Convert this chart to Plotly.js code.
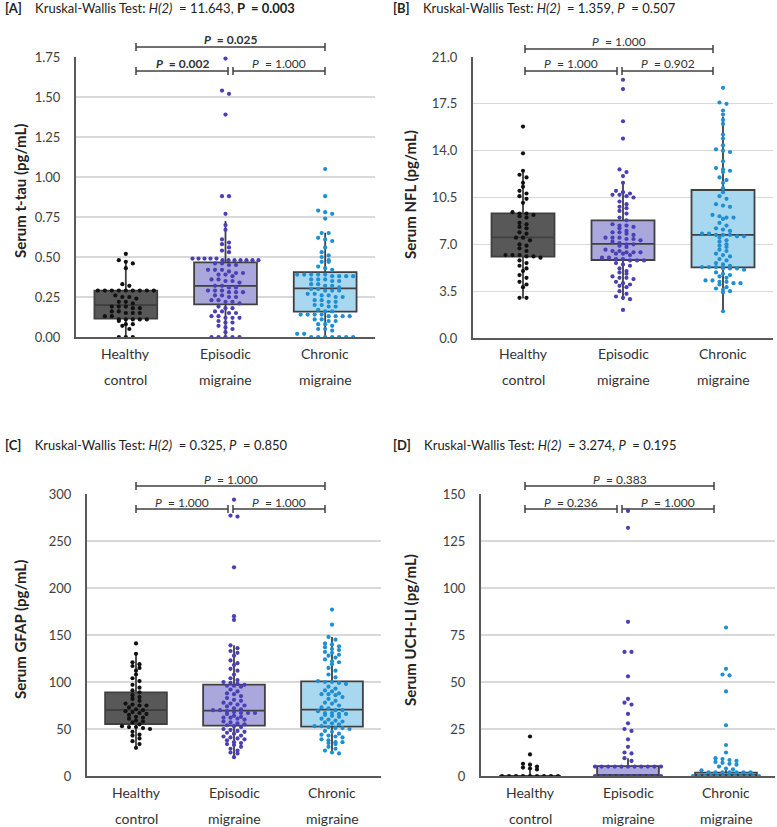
<!DOCTYPE html>
<html><head><meta charset="utf-8">
<script src="https://cdn.plot.ly/plotly-3.0.1.min.js"></script>
<style>html,body{margin:0;padding:0;background:#fff;}#chart{width:777px;height:827px;}</style>
</head><body><div id="chart"></div>
<script>
// ---------------- DATA ----------------
const categories = ['Healthy control', 'Episodic migraine', 'Chronic migraine'];
const catLine1 = ['Healthy', 'Episodic', 'Chronic'];
const catLine2 = ['control', 'migraine', 'migraine'];

// [A] Serum t-tau (pg/mL)
const tauHealthy = [0.52,0.48,0.47,0.46,0.43,0.33,0.32,
  0.29,0.29,0.29,0.29,0.29,0.29,0.29,0.29,0.29,0.26,0.25,0.25,0.24,0.22,0.22,0.21,
  0.19,0.19,0.19,0.18,0.18,0.16,0.16,0.15,0.15,0.15,0.13,0.13,
  0.11,0.11,0.11,0.11,0.11,0.10,0.08,0.08,0.07,0.05,0,0,0];
const tauEpisodic = [1.74,1.54,1.52,1.39,0.88,0.88,0.77,0.70,0.67,0.61,0.59,0.58,0.56,0.54,0.53,
  0.49,0.49,0.49,0.49,0.49,0.48,0.48,0.48,0.48,0.48,0.48,0.48,
  0.46,0.46,0.45,0.45,0.42,0.42,0.42,0.41,0.40,0.40,0.39,0.39,0.38,
  0.36,0.36,0.35,0.35,0.34,0.32,0.32,0.31,0.31,0.29,0.29,0.29,0.28,0.28,0.28,
  0.26,0.26,0.25,0.25,0.23,0.23,0.22,0.22,0.21,0.19,0.18,0.18,
  0.16,0.16,0.15,0.15,0.13,0.13,0.12,0.12,0.12,0.10,0.09,0.09,
  0.07,0.06,0.05,0.03,0,0,0,0,0];
const tauChronic = [1.05,0.88,0.79,0.78,0.77,0.74,0.65,0.65,0.62,0.61,0.60,0.56,0.53,0.51,0.50,
  0.48,0.47,0.47,0.44,0.43,0.42,
  0.39,0.39,0.39,0.39,0.39,0.38,0.38,0.38,0.38,0.36,0.36,0.36,0.35,0.35,
  0.33,0.33,0.32,0.32,0.31,0.30,0.30,0.29,0.29,0.29,0.27,0.27,0.26,0.26,0.25,0.25,
  0.23,0.23,0.22,0.22,0.20,0.20,0.19,0.19,0.17,0.16,0.16,
  0.14,0.14,0.14,0.14,0.13,0.13,0.13,0.13,0.11,0.11,0.10,0.10,
  0.08,0.08,0.07,0.05,0.05,0.04,0.02,0.02,0,0,0,0,0,0,0];
const tauQ1 = [0.115, 0.204, 0.158];
const tauMedian = [0.20, 0.32, 0.304];
const tauQ3 = [0.29, 0.467, 0.406];
const tauLow = [0, 0, 0];
const tauHigh = [0.465, 0.725, 0.652];

// [B] Serum NFL (pg/mL)
const nflHealthy = [15.8,13.8,12.5,12.2,12.0,11.6,11.3,11.0,10.8,10.6,10.4,10.1,
  9.4,9.3,9.3,9.2,9.1,9.0,8.6,8.5,8.3,8.2,7.9,7.8,7.5,7.5,7.3,7.0,6.9,6.7,6.5,
  6.2,6.2,6.2,6.1,6.1,6.0,5.8,5.6,5.4,5.2,5.0,4.7,4.5,4.2,4.0,3.8,3.0,3.0];
const nflEpisodic = [19.3,18.6,16.2,14.9,12.6,12.4,12.1,11.6,
  11.0,10.9,10.8,10.7,10.7,10.6,10.5,10.2,10.0,9.8,9.7,9.5,9.3,9.0,8.8,
  8.5,8.4,8.4,8.3,8.2,8.0,7.9,7.9,7.8,7.7,7.5,7.5,7.5,7.4,7.4,7.3,7.2,
  7.1,7.0,7.0,6.9,6.8,6.6,6.5,6.5,6.4,6.4,6.4,6.3,6.3,6.2,
  6.0,6.0,5.9,5.9,5.8,5.8,5.8,5.6,5.5,5.4,5.2,5.0,4.9,4.8,4.6,4.5,4.5,4.4,
  4.2,4.1,4.0,3.9,3.8,3.5,3.3,3.1,3.0,2.9,2.1];
const nflChronic = [18.7,17.6,17.5,17.0,16.7,16.3,16.0,15.2,14.9,14.4,14.1,14.0,13.9,
  13.2,12.7,12.6,12.5,12.4,12.0,11.8,11.6,11.2,10.9,10.6,10.4,10.0,9.9,9.8,
  9.2,9.1,9.0,9.0,8.9,8.6,8.4,8.2,8.1,8.0,7.8,7.8,7.7,7.7,7.7,7.6,7.6,7.5,
  7.3,7.2,7.0,6.9,6.8,6.6,6.5,6.3,6.2,6.1,5.9,5.8,5.6,5.5,5.4,
  5.3,5.3,5.3,5.2,5.2,5.2,5.1,4.9,4.8,4.7,4.6,4.5,4.3,4.3,4.2,4.2,4.1,4.1,4.0,
  3.8,3.7,3.6,3.5,3.4,2.0];
const nflQ1 = [6.08, 5.83, 5.28];
const nflMedian = [7.52, 7.03, 7.7];
const nflQ3 = [9.32, 8.79, 11.06];
const nflLow = [2.96, 2.84, 2.02];
const nflHigh = [12.5, 11.63, 16.54];

// [C] Serum GFAP (pg/mL)
const gfapHealthy = [141,130,121,119,117,115,112,108,104,101,97,94,91,89,
  86,84,82,80,77,76,75,75,73,71,70,69,68,67,66,65,63,62,61,59,58,57,
  55,53,52,52,51,50,47,44,43,40,37,34,30];
const gfapEpisodic = [294,277,276,222,170,166,139,136,133,131,128,
  123,120,118,114,112,108,104,102,100,99,98,97,96,96,95,92,90,88,87,85,83,
  81,80,78,77,76,75,74,72,71,70,70,69,68,67,67,67,66,64,63,62,62,61,60,
  58,57,56,55,54,53,52,50,49,48,47,46,45,43,42,41,40,39,38,36,35,34,33,31,
  29,27,25,24,20];
const gfapChronic = [177,161,148,145,141,140,138,137,135,134,132,131,129,128,126,124,122,121,119,
  115,112,108,105,101,100,100,99,98,95,93,91,90,88,87,87,86,84,82,80,78,77,75,
  73,72,70,70,69,67,67,66,66,65,64,63,61,60,59,58,57,56,55,53,53,52,51,51,50,
  48,47,45,44,43,42,41,39,38,36,36,35,34,31,29,27,25,24];
const gfapQ1 = [55.3, 53.5, 52.5];
const gfapMedian = [70.2, 69.5, 70.6];
const gfapQ3 = [89, 97.2, 100.7];
const gfapLow = [30, 20, 24];
const gfapHigh = [130, 139, 148];

// [D] Serum UCH-L1 (pg/mL)
const uchHealthy = [21,11.5,6.5,6,5,4.5,4,3.5,0,0,0,0,0,0,0,0,0];
const uchEpisodic = [141,132,82,66,66,53,41,39,38,33,28,25,24,19.5,15.5,12.5,12,9.5,8,
  5,5,5,5,5,5,5,5,5,5,5,0,0,0,0,0,0,0,0,0,0,0,0];
const uchChronic = [79,57,54,53.5,45,27,16.5,12.5,9.5,9,8.5,8,7.5,7,6.5,6,5,4,3.5,3,
  2,2,2,2,2,2,2,0,0,0,0,0,0,0,0,0,0,0,0];
const uchQ1 = [0, 0, 0];
const uchMedian = [0, 0, 0];
const uchQ3 = [0, 5.2, 1.8];
const uchLow = [0, 0, 0];
const uchHigh = [5, 9.5, 3.5];

// Stats texts
const kwTitles = [
  '<b>[A]</b>\u00A0\u00A0\u00A0\u00A0Kruskal-Wallis Test: <i>H(2)</i>\u00A0 = 11.643, <b>P\u00A0 = 0.003</b>',
  '<b>[B]</b>\u00A0\u00A0\u00A0\u00A0Kruskal-Wallis Test: <i>H(2)</i>\u00A0 = 1.359, <i>P</i>\u00A0 = 0.507',
  '<b>[C]</b>\u00A0\u00A0\u00A0\u00A0Kruskal-Wallis Test: <i>H(2)</i>\u00A0 = 0.325, <i>P</i>\u00A0 = 0.850',
  '<b>[D]</b>\u00A0\u00A0\u00A0\u00A0Kruskal-Wallis Test: <i>H(2)</i>\u00A0 = 3.274, <i>P</i>\u00A0 = 0.195'
];
// pairwise: [HC vs CM (top), HC vs EM, EM vs CM]
const pairP = [
  ['<b><i>P</i>\u00A0 = 0.025</b>', '<b><i>P</i>\u00A0 = 0.002</b>', '<i>P</i>\u00A0 = 1.000'],
  ['<i>P</i>\u00A0 = 1.000', '<i>P</i>\u00A0 = 1.000', '<i>P</i>\u00A0 = 0.902'],
  ['<i>P</i>\u00A0 = 1.000', '<i>P</i>\u00A0 = 1.000', '<i>P</i>\u00A0 = 1.000'],
  ['<i>P</i>\u00A0 = 0.383', '<i>P</i>\u00A0 = 0.236', '<i>P</i>\u00A0 = 1.000']
];
const yTitles = ['Serum t-tau (pg/mL)', 'Serum NFL (pg/mL)', 'Serum GFAP (pg/mL)', 'Serum UCH-LI (pg/mL)'];

// ---------------- LAYOUT / STYLE ----------------
const W = 777, H = 827;
const FONT = 'Lato, "Open Sans", "DejaVu Sans", sans-serif';
const fills = ['#585858', '#a9a7dc', '#a8d8f0'];
const dotColors = ['#111111', '#4a3fb5', '#1e8fd2'];
const edge = '#404040';

const panels = [
  {vals:[tauHealthy,tauEpisodic,tauChronic], q1:tauQ1, med:tauMedian, q3:tauQ3, lo:tauLow, hi:tauHigh,
   px:[76,375], py:[57,337], yr:[0,1.75], dtick:0.25, fmt:'.2f',
   titlePos:[3,8], yTitlePos:[20,191], lab:[353,379], br:{L:136,M1:228,M2:233,R:325,top:47,low:71}},
  {vals:[nflHealthy,nflEpisodic,nflChronic], q1:nflQ1, med:nflMedian, q3:nflQ3, lo:nflLow, hi:nflHigh,
   px:[473,773], py:[57,338], yr:[0,21], dtick:3.5, fmt:'.1f',
   titlePos:[391,8], yTitlePos:[410,195], lab:[353,379], br:{L:525,M1:617,M2:622,R:713,top:49,low:71}},
  {vals:[gfapHealthy,gfapEpisodic,gfapChronic], q1:gfapQ1, med:gfapMedian, q3:gfapQ3, lo:gfapLow, hi:gfapHigh,
   px:[87,381], py:[494,776], yr:[0,300], dtick:50, fmt:'d',
   titlePos:[3,445], yTitlePos:[20,630], lab:[792,818], br:{L:136,M1:228,M2:233,R:325,top:486,low:509}},
  {vals:[uchHealthy,uchEpisodic,uchChronic], q1:uchQ1, med:uchMedian, q3:uchQ3, lo:uchLow, hi:uchHigh,
   px:[481,775], py:[494,776], yr:[0,150], dtick:25, fmt:'d',
   titlePos:[391,445], yTitlePos:[410,630], lab:[792,818], br:{L:525,M1:617,M2:622,R:714,top:486,low:509}}
];

const fx = p => p / W;
const fy = p => 1 - p / H;

// dot-plot (binned beeswarm) offsets computed from values
function swarm(vals, center, unitsPerPxY, unitsPerPxX) {
  const sorted = vals.slice().sort((a, b) => b - a);
  const binPx = 3.6, spacePx = 7, maxHalfPx = 33;
  const rows = [];
  let cur = null;
  sorted.forEach(v => {
    if (cur && Math.abs(cur.start - v) / unitsPerPxY <= binPx) cur.items.push(v);
    else { cur = {start: v, items: [v]}; rows.push(cur); }
  });
  const xs = [], ys = [];
  rows.forEach(r => {
    const n = r.items.length;
    let sp = spacePx;
    if (n > 1 && (n - 1) * sp > 2 * maxHalfPx) sp = 2 * maxHalfPx / (n - 1);
    r.items.forEach((v, i) => {
      xs.push(center + (i - (n - 1) / 2) * sp * unitsPerPxX);
      ys.push(v);
    });
  });
  return {x: xs, y: ys};
}

const data = [];
const layout = {
  width: W, height: H, margin: {l:0, r:0, t:0, b:0},
  paper_bgcolor: '#ffffff', plot_bgcolor: '#ffffff',
  font: {family: FONT, color: '#333333'},
  showlegend: false, shapes: [], annotations: []
};

panels.forEach((p, k) => {
  const s = k === 0 ? '' : String(k + 1);
  const xa = 'x' + s, ya = 'y' + s;
  const xr = [-0.5, 2.5];
  const upx = (xr[1] - xr[0]) / (p.px[1] - p.px[0]);
  const upy = (p.yr[1] - p.yr[0]) / (p.py[1] - p.py[0]);

  layout['xaxis' + s] = {
    domain: [fx(p.px[0]), fx(p.px[1])], range: xr, anchor: ya,
    showgrid: false, zeroline: false, showline: true, linecolor: '#595959', linewidth: 2,
    showticklabels: false, ticks: '', fixedrange: true
  };
  layout['yaxis' + s] = {
    domain: [fy(p.py[1]), fy(p.py[0])], range: p.yr, anchor: xa,
    tick0: 0, dtick: p.dtick, tickformat: p.fmt,
    showgrid: true, gridcolor: '#d9d9d9', gridwidth: 1.3,
    zeroline: false, showline: true, linecolor: '#595959', linewidth: 2,
    ticks: 'outside', ticklen: 11, tickcolor: 'rgba(0,0,0,0)',
    tickfont: {family: FONT, size: 13, color: '#404040'}, fixedrange: true
  };

  for (let g = 0; g < 3; g++) {
    data.push({
      type: 'box', x: [g], q1: [p.q1[g]], median: [p.med[g]], q3: [p.q3[g]],
      lowerfence: [p.lo[g]], upperfence: [p.hi[g]],
      xaxis: xa, yaxis: ya, width: 0.63, whiskerwidth: 0,
      fillcolor: fills[g], line: {color: edge, width: 1.8},
      boxpoints: false, hoverinfo: 'skip', name: categories[g]
    });
  }
  for (let g = 0; g < 3; g++) {
    const sw = swarm(p.vals[g], g, upy, upx);
    data.push({
      type: 'scatter', mode: 'markers', x: sw.x, y: sw.y, xaxis: xa, yaxis: ya,
      marker: {size: 4.2, color: dotColors[g]}, cliponaxis: false,
      hoverinfo: 'skip', name: categories[g]
    });
  }

  // panel title
  layout.annotations.push({
    xref: 'paper', yref: 'paper', x: fx(p.titlePos[0]), y: fy(p.titlePos[1]),
    xanchor: 'left', yanchor: 'middle', showarrow: false, text: kwTitles[k],
    font: {family: FONT, size: 13, color: '#222222'}
  });
  // y title
  layout.annotations.push({
    xref: 'paper', yref: 'paper', x: fx(p.yTitlePos[0]), y: fy(p.yTitlePos[1]),
    xanchor: 'center', yanchor: 'middle', showarrow: false, textangle: -90,
    text: '<b>' + yTitles[k] + '</b>', font: {family: FONT, size: 15, color: '#222222'}
  });
  // category labels (two lines)
  for (let g = 0; g < 3; g++) {
    [catLine1[g], catLine2[g]].forEach((t, li) => {
      layout.annotations.push({
        xref: xa, yref: 'paper', x: g, y: fy(p.lab[li]),
        xanchor: 'center', yanchor: 'middle', showarrow: false, text: t,
        font: {family: FONT, size: 14, color: '#333333'}
      });
    });
  }
  // significance brackets
  const b = p.br, cap = 4;
  const seg = (x0, y0, x1, y1) => layout.shapes.push({
    type: 'line', xref: 'paper', yref: 'paper', x0: fx(x0), y0: fy(y0), x1: fx(x1), y1: fy(y1),
    line: {color: edge, width: 1.5}
  });
  const bracket = (a, c, y) => { seg(a, y, c, y); seg(a, y - cap, a, y + cap); seg(c, y - cap, c, y + cap); };
  bracket(b.L, b.R, b.top);
  bracket(b.L, b.M1, b.low);
  bracket(b.M2, b.R, b.low);
  const ptxt = (xc, y, t) => layout.annotations.push({
    xref: 'paper', yref: 'paper', x: fx(xc), y: fy(y - 7), xanchor: 'center', yanchor: 'middle',
    showarrow: false, text: t, font: {family: FONT, size: 12, color: '#333333'}
  });
  ptxt((b.L + b.R) / 2, b.top, pairP[k][0]);
  ptxt((b.L + b.M1) / 2, b.low, pairP[k][1]);
  ptxt((b.M2 + b.R) / 2, b.low, pairP[k][2]);
});

Plotly.newPlot('chart', data, layout, {staticPlot: true, displayModeBar: false});
</script>
</body></html>
